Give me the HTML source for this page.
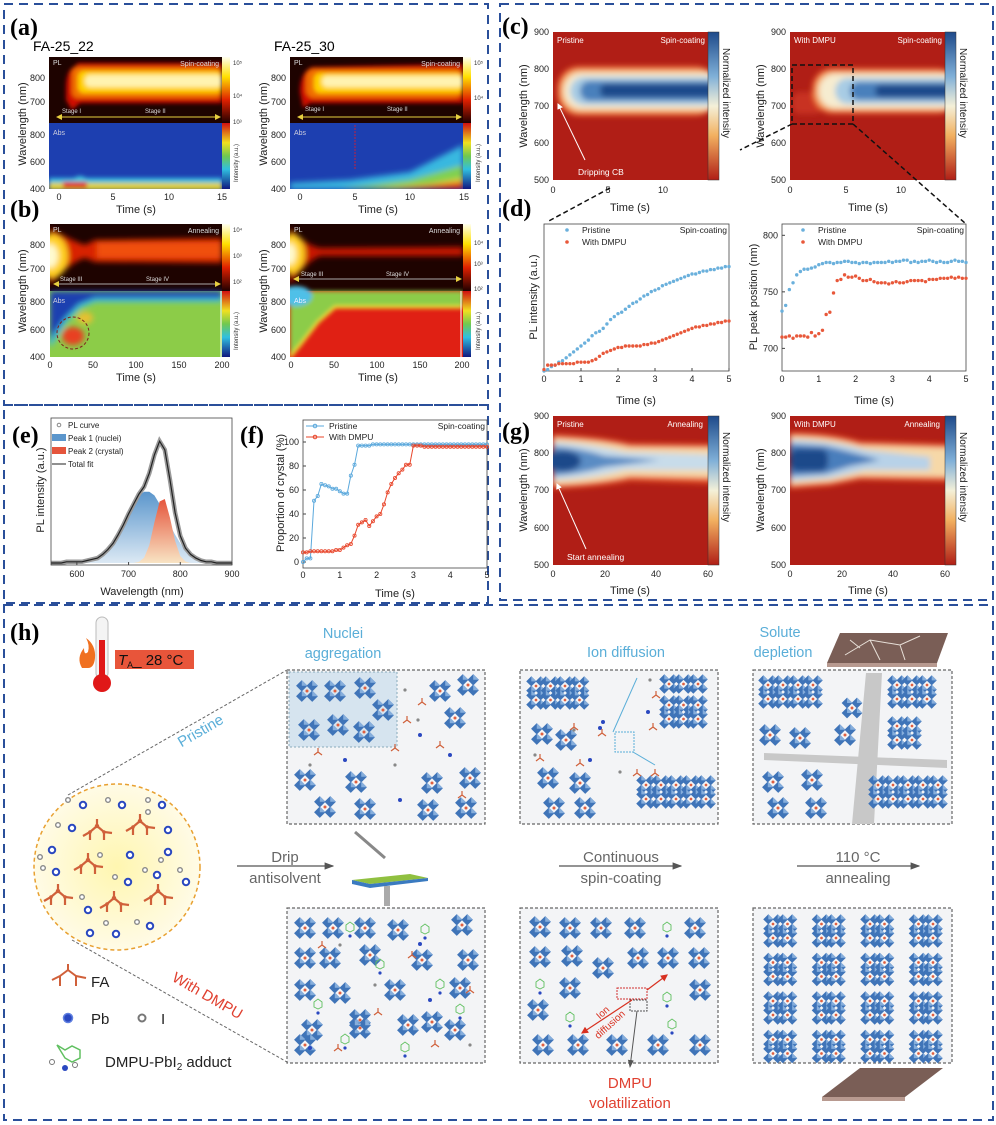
<!DOCTYPE html>
<html><head><meta charset="utf-8">
<style>
body{margin:0;background:#fff;}
svg{display:block;font-family:"Liberation Sans",sans-serif;}
.pl{font-family:"Liberation Serif",serif;font-weight:bold;font-size:24px;}
.tk{font-size:9px;fill:#222;}
.at{font-size:11px;fill:#222;}
.wt{font-size:8px;fill:#fff;}
</style></head>
<body>
<svg id="fig" width="996" height="1125" viewBox="0 0 996 1125">
<defs>
<filter id="bl2" x="-20%" y="-50%" width="140%" height="200%"><feGaussianBlur stdDeviation="2"/></filter>
<filter id="bl3" x="-20%" y="-50%" width="140%" height="200%"><feGaussianBlur stdDeviation="3"/></filter>
<linearGradient id="cbPL" x1="0" y1="0" x2="0" y2="1"><stop offset="0" stop-color="#fffff0"/><stop offset="0.3" stop-color="#ffe000"/><stop offset="0.65" stop-color="#e02000"/><stop offset="1" stop-color="#200000"/></linearGradient>
<linearGradient id="cbAbs" x1="0" y1="0" x2="0" y2="1"><stop offset="0" stop-color="#d01010"/><stop offset="0.3" stop-color="#f0e020"/><stop offset="0.5" stop-color="#70c850"/><stop offset="0.7" stop-color="#30c0e0"/><stop offset="1" stop-color="#101880"/></linearGradient>
<linearGradient id="cbN" x1="0" y1="0" x2="0" y2="1"><stop offset="0" stop-color="#1e4a8a"/><stop offset="0.3" stop-color="#80b0d8"/><stop offset="0.5" stop-color="#f4f0d8"/><stop offset="0.7" stop-color="#f2b060"/><stop offset="1" stop-color="#b01e16"/></linearGradient>
<linearGradient id="gP1" x1="0" y1="0" x2="0" y2="1"><stop offset="0" stop-color="#5b96cc"/><stop offset="1" stop-color="#dce9f4"/></linearGradient>
<linearGradient id="gP2" x1="0" y1="0" x2="0" y2="1"><stop offset="0" stop-color="#e5553c"/><stop offset="1" stop-color="#f8e4c4"/></linearGradient>
<radialGradient id="gCirc"><stop offset="0" stop-color="#fff6b0"/><stop offset="1" stop-color="#fffbe6"/></radialGradient>
<clipPath id="cA1"><rect x="49" y="57" width="173" height="132"/></clipPath>
<clipPath id="cA2"><rect x="290" y="57" width="173" height="132"/></clipPath>
<clipPath id="cB1"><rect x="50" y="224" width="172" height="133"/></clipPath>
<clipPath id="cB2"><rect x="290" y="224" width="173" height="133"/></clipPath>
<clipPath id="cC1"><rect x="553" y="32" width="155" height="148"/></clipPath>
<clipPath id="cC2"><rect x="790" y="32" width="155" height="148"/></clipPath>
<clipPath id="cG1"><rect x="553" y="416" width="155" height="149"/></clipPath>
<clipPath id="cG2"><rect x="790" y="416" width="155" height="149"/></clipPath>
<marker id="arB" markerWidth="8" markerHeight="8" refX="7" refY="4" orient="auto"><path d="M0,1 L8,4 L0,7z" fill="#555"/></marker>
<marker id="arY" markerWidth="6" markerHeight="6" refX="5" refY="3" orient="auto-start-reverse"><path d="M0,0 L6,3 L0,6z" fill="#e8d040"/></marker>
<marker id="arW" markerWidth="6" markerHeight="6" refX="5" refY="3" orient="auto"><path d="M0,0 L6,3 L0,6z" fill="#fff"/></marker>
<marker id="arR" markerWidth="6" markerHeight="6" refX="5" refY="3" orient="auto-start-reverse"><path d="M0,0 L6,3 L0,6z" fill="#d83020"/></marker>
</defs>

<rect x="4" y="4" width="484" height="401" fill="none" stroke="#2a4f9a" stroke-width="2" stroke-dasharray="9,6"/>
<rect x="500" y="4" width="493" height="596" fill="none" stroke="#2a4f9a" stroke-width="2" stroke-dasharray="9,6"/>
<rect x="4" y="405" width="484" height="198" fill="none" stroke="#2a4f9a" stroke-width="2" stroke-dasharray="9,6"/>
<rect x="4" y="605" width="989" height="515" fill="none" stroke="#2a4f9a" stroke-width="2" stroke-dasharray="9,6"/>

<!-- (a) -->
<text class="pl" x="10" y="35">(a)</text>
<text x="33" y="51" font-size="14">FA-25_22</text>
<text x="274" y="51" font-size="14">FA-25_30</text>

<g>
<g clip-path="url(#cA1)">
<rect x="49" y="57" width="173" height="66" fill="#1e0300"/>
<g filter="url(#bl2)">
<path d="M66,88 Q66,70 75,66 L78,63 L222,63 L222,103 L80,103 L72,110 L66,100z" fill="#d01000"/>
<rect x="72" y="67" width="150" height="31" rx="6" fill="#f07000"/>
<rect x="78" y="71" width="144" height="22" rx="6" fill="#ffd000"/>
<rect x="85" y="75" width="137" height="12" rx="5" fill="#fff3b0"/>
</g>
<rect x="49" y="123" width="173" height="66" fill="#1d3fb0"/>
<g filter="url(#bl2)">
<rect x="49" y="178" width="173" height="12" fill="#38c0e0"/>
<rect x="49" y="183" width="173" height="7" fill="#e0d030"/>
<rect x="63" y="182" width="24" height="6" fill="#e02010"/>
<path d="M70,182 Q80,170 90,182z" fill="#40c8e0"/>
</g>
</g>
<line x1="57" y1="117" x2="220" y2="117" stroke="#e8d040" stroke-width="1" marker-start="url(#arY)" marker-end="url(#arY)"/>
<text x="62" y="113" font-size="6" fill="#ddd">Stage I</text><text x="145" y="113" font-size="6" fill="#ddd">Stage II</text>
<text x="53" y="65" font-size="7" fill="#ddd">PL</text><text x="219" y="66" font-size="7" fill="#ddd" text-anchor="end">Spin-coating</text>
<text x="53" y="135" font-size="7" fill="#ccd">Abs</text>
<rect x="222" y="57" width="8" height="66" fill="url(#cbPL)"/><rect x="222" y="123" width="8" height="66" fill="url(#cbAbs)"/>
<text x="233" y="65" font-size="6" fill="#333">10⁵</text><text x="233" y="98" font-size="6" fill="#333">10⁴</text><text x="233" y="124" font-size="6" fill="#333">10³</text>
<text transform="translate(238,182) rotate(-90)" font-size="6" fill="#333">Intensity (a.u.)</text>
<text class="tk" x="45" y="81" text-anchor="end">800</text><text class="tk" x="45" y="105" text-anchor="end">700</text>
<text class="tk" x="45" y="138" text-anchor="end">800</text><text class="tk" x="45" y="165" text-anchor="end">600</text><text class="tk" x="45" y="192" text-anchor="end">400</text>
<text class="tk" x="59" y="200" text-anchor="middle">0</text><text class="tk" x="113" y="200" text-anchor="middle">5</text><text class="tk" x="169" y="200" text-anchor="middle">10</text><text class="tk" x="222" y="200" text-anchor="middle">15</text>
<text class="at" x="136" y="213" text-anchor="middle">Time (s)</text>
<text class="at" transform="translate(26,124) rotate(-90)" text-anchor="middle">Wavelength (nm)</text>
</g>

<g>
<g clip-path="url(#cA2)">
<rect x="290" y="57" width="173" height="66" fill="#1e0300"/>
<g filter="url(#bl2)">
<path d="M300,92 Q300,72 312,67 L463,64 L463,103 L310,103 L303,108z" fill="#d01000"/>
<rect x="306" y="69" width="157" height="29" rx="8" fill="#f07000"/>
<rect x="314" y="73" width="149" height="20" rx="6" fill="#ffd000"/>
<rect x="322" y="76" width="141" height="11" rx="5" fill="#fff3b0"/>
</g>
<rect x="290" y="123" width="173" height="66" fill="#1d3fb0"/>
<g filter="url(#bl3)">
<path d="M290,189 L290,183 L350,180 L410,172 L463,145 L463,189z" fill="#38b8e0"/>
<path d="M340,189 L410,180 L463,165 L463,189z" fill="#80d050"/>
<path d="M370,189 L430,184 L463,178 L463,189z" fill="#e8d030"/>
<path d="M395,189 L463,182 L463,189z" fill="#e02010"/>
</g>
</g>
<line x1="355" y1="125" x2="355" y2="170" stroke="#c02040" stroke-width="1" stroke-dasharray="2,1"/>
<line x1="298" y1="117" x2="461" y2="117" stroke="#e8d040" stroke-width="1" marker-start="url(#arY)" marker-end="url(#arY)"/>
<text x="305" y="111" font-size="6" fill="#ddd">Stage I</text><text x="387" y="111" font-size="6" fill="#ddd">Stage II</text>
<text x="294" y="65" font-size="7" fill="#ddd">PL</text><text x="460" y="66" font-size="7" fill="#ddd" text-anchor="end">Spin-coating</text>
<text x="294" y="135" font-size="7" fill="#ccd">Abs</text>
<rect x="463" y="57" width="8" height="66" fill="url(#cbPL)"/><rect x="463" y="123" width="8" height="66" fill="url(#cbAbs)"/>
<text x="474" y="65" font-size="6" fill="#333">10⁵</text><text x="474" y="100" font-size="6" fill="#333">10⁴</text>
<text transform="translate(480,182) rotate(-90)" font-size="6" fill="#333">Intensity (a.u.)</text>
<text class="tk" x="286" y="81" text-anchor="end">800</text><text class="tk" x="286" y="105" text-anchor="end">700</text>
<text class="tk" x="286" y="138" text-anchor="end">800</text><text class="tk" x="286" y="165" text-anchor="end">600</text><text class="tk" x="286" y="192" text-anchor="end">400</text>
<text class="tk" x="300" y="200" text-anchor="middle">0</text><text class="tk" x="355" y="200" text-anchor="middle">5</text><text class="tk" x="410" y="200" text-anchor="middle">10</text><text class="tk" x="464" y="200" text-anchor="middle">15</text>
<text class="at" x="378" y="213" text-anchor="middle">Time (s)</text>
<text class="at" transform="translate(267,124) rotate(-90)" text-anchor="middle">Wavelength (nm)</text>
</g>

<!-- (b) -->
<text class="pl" x="10" y="217">(b)</text>
<g>
<g clip-path="url(#cB1)">
<rect x="50" y="224" width="172" height="67" fill="#1e0300"/>
<g filter="url(#bl3)">
<path d="M50,228 Q70,240 85,245 L95,240 L222,238 L222,263 L95,262 L85,258 Q70,262 50,285z" fill="#d82000"/>
<rect x="97" y="242" width="125" height="16" fill="#f05010"/>
<ellipse cx="52" cy="256" rx="16" ry="22" fill="#ffd020"/>
<ellipse cx="50" cy="256" rx="8" ry="12" fill="#fffbd0"/>
</g>
<rect x="50" y="291" width="172" height="66" fill="#8ccc48"/>
<g filter="url(#bl3)">
<path d="M50,291 L222,291 L222,300 L95,300 L80,306 L66,320 L56,335 L50,345z" fill="#1d3fb0"/>
<path d="M50,345 L56,335 L66,320 L80,306 L95,300 L222,300" fill="none" stroke="#40c0e0" stroke-width="4"/>
<ellipse cx="73" cy="336" rx="11" ry="9" fill="#e84020"/>
<ellipse cx="85" cy="318" rx="8" ry="6" fill="#e8c030"/>
</g>
</g>
<circle cx="73" cy="333" r="16" fill="none" stroke="#802020" stroke-width="1" stroke-dasharray="3,2"/>
<line x1="221" y1="291" x2="221" y2="357" stroke="#fff" stroke-width="1"/>
<line x1="54" y1="284" x2="220" y2="284" stroke="#aaa" stroke-width="1" marker-start="url(#arY)" marker-end="url(#arY)"/>
<text x="60" y="281" font-size="6" fill="#ddd">Stage III</text><text x="146" y="281" font-size="6" fill="#ddd">Stage IV</text>
<text x="53" y="232" font-size="7" fill="#ddd">PL</text><text x="219" y="233" font-size="7" fill="#ddd" text-anchor="end">Annealing</text>
<text x="53" y="303" font-size="7" fill="#ccd">Abs</text>
<rect x="222" y="224" width="8" height="67" fill="url(#cbPL)"/><rect x="222" y="291" width="8" height="66" fill="url(#cbAbs)"/>
<text x="233" y="232" font-size="6" fill="#333">10⁴</text><text x="233" y="258" font-size="6" fill="#333">10³</text><text x="233" y="284" font-size="6" fill="#333">10²</text>
<text transform="translate(238,350) rotate(-90)" font-size="6" fill="#333">Intensity (a.u.)</text>
<text class="tk" x="45" y="248" text-anchor="end">800</text><text class="tk" x="45" y="272" text-anchor="end">700</text>
<text class="tk" x="45" y="305" text-anchor="end">800</text><text class="tk" x="45" y="333" text-anchor="end">600</text><text class="tk" x="45" y="360" text-anchor="end">400</text>
<text class="tk" x="50" y="368" text-anchor="middle">0</text><text class="tk" x="93" y="368" text-anchor="middle">50</text><text class="tk" x="136" y="368" text-anchor="middle">100</text><text class="tk" x="179" y="368" text-anchor="middle">150</text><text class="tk" x="222" y="368" text-anchor="middle">200</text>
<text class="at" x="136" y="381" text-anchor="middle">Time (s)</text>
<text class="at" transform="translate(26,291) rotate(-90)" text-anchor="middle">Wavelength (nm)</text>
</g>

<g>
<g clip-path="url(#cB2)">
<rect x="290" y="224" width="173" height="67" fill="#1e0300"/>
<g filter="url(#bl3)">
<path d="M290,228 Q305,245 320,248 L463,247 L463,256 L320,256 Q305,262 290,285z" fill="#c81800"/>
<ellipse cx="292" cy="254" rx="13" ry="20" fill="#ffd020"/>
<ellipse cx="290" cy="254" rx="6" ry="11" fill="#fffbd0"/>
</g>
<rect x="290" y="291" width="173" height="66" fill="#e02014"/>
<g filter="url(#bl2)">
<path d="M290,291 L463,291 L463,307 L335,307 L318,322 L300,345 L290,357z" fill="#8ccc48"/>
<path d="M290,357 L300,345 L318,322 L335,307 L463,307" fill="none" stroke="#f0e030" stroke-width="3"/>
<ellipse cx="296" cy="296" rx="16" ry="10" fill="#50c0e8"/>
</g>
</g>
<line x1="461" y1="291" x2="461" y2="357" stroke="#fff" stroke-width="1"/>
<line x1="294" y1="279" x2="461" y2="279" stroke="#aaa" stroke-width="1" marker-start="url(#arY)" marker-end="url(#arY)"/>
<text x="301" y="276" font-size="6" fill="#ddd">Stage III</text><text x="386" y="276" font-size="6" fill="#ddd">Stage IV</text>
<text x="294" y="232" font-size="7" fill="#ddd">PL</text><text x="460" y="233" font-size="7" fill="#ddd" text-anchor="end">Annealing</text>
<text x="294" y="303" font-size="7" fill="#eef">Abs</text>
<rect x="463" y="224" width="8" height="67" fill="url(#cbPL)"/><rect x="463" y="291" width="8" height="66" fill="url(#cbAbs)"/>
<text x="474" y="245" font-size="6" fill="#333">10⁴</text><text x="474" y="266" font-size="6" fill="#333">10³</text><text x="474" y="291" font-size="6" fill="#333">10²</text>
<text transform="translate(480,350) rotate(-90)" font-size="6" fill="#333">Intensity (a.u.)</text>
<text class="tk" x="286" y="248" text-anchor="end">800</text><text class="tk" x="286" y="272" text-anchor="end">700</text>
<text class="tk" x="286" y="305" text-anchor="end">800</text><text class="tk" x="286" y="333" text-anchor="end">600</text><text class="tk" x="286" y="360" text-anchor="end">400</text>
<text class="tk" x="291" y="368" text-anchor="middle">0</text><text class="tk" x="334" y="368" text-anchor="middle">50</text><text class="tk" x="377" y="368" text-anchor="middle">100</text><text class="tk" x="420" y="368" text-anchor="middle">150</text><text class="tk" x="462" y="368" text-anchor="middle">200</text>
<text class="at" x="378" y="381" text-anchor="middle">Time (s)</text>
<text class="at" transform="translate(267,291) rotate(-90)" text-anchor="middle">Wavelength (nm)</text>
</g>

<!-- (c) -->
<text class="pl" x="502" y="34">(c)</text>
<g>
<g clip-path="url(#cC1)">
<rect x="553" y="32" width="155" height="148" fill="#b01e16"/>
<g filter="url(#bl3)">
<rect x="557" y="66" width="160" height="50" rx="22" fill="#e85828"/>
<rect x="560" y="69" width="160" height="44" rx="20" fill="#f4b070"/>
<rect x="564" y="73" width="160" height="36" rx="17" fill="#f6ecd0"/>
<rect x="570" y="77" width="160" height="28" rx="14" fill="#a8cce4"/>
<rect x="580" y="81" width="160" height="20" rx="10" fill="#4a80bc"/>
<rect x="600" y="84" width="120" height="13" rx="6" fill="#1e4a8a"/>
</g>
</g>
<rect x="708" y="32" width="11" height="148" fill="url(#cbN)" stroke="#333" stroke-width="0.5"/>
<line x1="585" y1="160" x2="558" y2="104" stroke="#fff" stroke-width="1" marker-end="url(#arW)"/>
<text x="578" y="175" font-size="8.5" fill="#fff">Dripping CB</text>
<text class="wt" x="557" y="43">Pristine</text><text class="wt" x="705" y="43" text-anchor="end">Spin-coating</text>
<text transform="translate(723,48) rotate(90)" font-size="10" fill="#222">Normalized intensity</text>
<text class="tk" x="549" y="35" text-anchor="end">900</text><text class="tk" x="549" y="72" text-anchor="end">800</text><text class="tk" x="549" y="109" text-anchor="end">700</text><text class="tk" x="549" y="146" text-anchor="end">600</text><text class="tk" x="549" y="183" text-anchor="end">500</text>
<text class="tk" x="553" y="193" text-anchor="middle">0</text><text class="tk" x="608" y="193" text-anchor="middle">5</text><text class="tk" x="663" y="193" text-anchor="middle">10</text>
<text class="at" x="630" y="211" text-anchor="middle">Time (s)</text>
<text class="at" transform="translate(527,106) rotate(-90)" text-anchor="middle">Wavelength (nm)</text>
</g>

<g>
<g clip-path="url(#cC2)">
<rect x="790" y="32" width="155" height="148" fill="#b01e16"/>
<g filter="url(#bl3)">
<rect x="792" y="92" width="30" height="22" rx="8" fill="#c83020"/>
<rect x="812" y="68" width="145" height="46" rx="20" fill="#e85828"/>
<rect x="815" y="71" width="145" height="40" rx="18" fill="#f4b070"/>
<rect x="819" y="74" width="145" height="34" rx="16" fill="#f6ecd0"/>
<rect x="835" y="78" width="130" height="26" rx="13" fill="#a8cce4"/>
<rect x="850" y="82" width="120" height="18" rx="9" fill="#4a80bc"/>
<rect x="875" y="85" width="90" height="12" rx="6" fill="#1e4a8a"/>
</g>
</g>
<rect x="945" y="32" width="11" height="148" fill="url(#cbN)" stroke="#333" stroke-width="0.5"/>
<text class="wt" x="794" y="43">With DMPU</text><text class="wt" x="942" y="43" text-anchor="end">Spin-coating</text>
<text transform="translate(960,48) rotate(90)" font-size="10" fill="#222">Normalized intensity</text>
<text class="tk" x="786" y="35" text-anchor="end">900</text><text class="tk" x="786" y="72" text-anchor="end">800</text><text class="tk" x="786" y="109" text-anchor="end">700</text><text class="tk" x="786" y="146" text-anchor="end">600</text><text class="tk" x="786" y="183" text-anchor="end">500</text>
<text class="tk" x="790" y="193" text-anchor="middle">0</text><text class="tk" x="846" y="193" text-anchor="middle">5</text><text class="tk" x="901" y="193" text-anchor="middle">10</text>
<text class="at" x="868" y="211" text-anchor="middle">Time (s)</text>
<text class="at" transform="translate(764,106) rotate(-90)" text-anchor="middle">Wavelength (nm)</text>
<rect x="792" y="65" width="61" height="59" fill="none" stroke="#111" stroke-width="1.5" stroke-dasharray="5,3"/>
</g>
<g stroke="#111" stroke-width="1.5" stroke-dasharray="5,3" fill="none">
<line x1="792" y1="124" x2="740" y2="150"/><line x1="610" y1="188" x2="547" y2="222"/><line x1="853" y1="124" x2="966" y2="224"/>
</g>

<!-- (d) -->
<text class="pl" x="502" y="216">(d)</text>
<g id="dLeft"></g>
<g id="dRight"></g>

<!-- (g) -->
<text class="pl" x="502" y="439">(g)</text>
<g>
<g clip-path="url(#cG1)">
<rect x="553" y="416" width="155" height="149" fill="#b01e16"/>
<g filter="url(#bl3)">
<path d="M553,434 Q600,436 630,443 L720,444 L720,484 L630,481 Q600,487 553,489z" fill="#e85828"/>
<path d="M553,438 Q600,440 630,447 L720,448 L720,478 L630,476 Q600,483 553,485z" fill="#f6d8a8"/>
<path d="M553,442 Q590,444 625,452 L720,455 L720,470 L625,470 Q590,479 553,480z" fill="#c8dcea"/>
<path d="M553,446 Q580,448 605,456 L660,460 L605,467 Q580,474 553,476z" fill="#5a8cc4"/>
<ellipse cx="563" cy="461" rx="18" ry="10" fill="#1e4a8a"/>
</g>
</g>
<rect x="708" y="416" width="11" height="149" fill="url(#cbN)" stroke="#333" stroke-width="0.5"/>
<line x1="586" y1="549" x2="557" y2="484" stroke="#fff" stroke-width="1" marker-end="url(#arW)"/>
<text x="567" y="560" font-size="8.5" fill="#fff">Start annealing</text>
<text class="wt" x="557" y="427">Pristine</text><text class="wt" x="703" y="427" text-anchor="end">Annealing</text>
<text transform="translate(723,432) rotate(90)" font-size="10" fill="#222">Normalized intensity</text>
<text class="tk" x="549" y="419" text-anchor="end">900</text><text class="tk" x="549" y="456" text-anchor="end">800</text><text class="tk" x="549" y="493" text-anchor="end">700</text><text class="tk" x="549" y="531" text-anchor="end">600</text><text class="tk" x="549" y="568" text-anchor="end">500</text>
<text class="tk" x="553" y="577" text-anchor="middle">0</text><text class="tk" x="605" y="577" text-anchor="middle">20</text><text class="tk" x="656" y="577" text-anchor="middle">40</text><text class="tk" x="708" y="577" text-anchor="middle">60</text>
<text class="at" x="630" y="594" text-anchor="middle">Time (s)</text>
<text class="at" transform="translate(527,490) rotate(-90)" text-anchor="middle">Wavelength (nm)</text>
</g>
<g>
<g clip-path="url(#cG2)">
<rect x="790" y="416" width="155" height="149" fill="#b01e16"/>
<g filter="url(#bl3)">
<path d="M790,432 Q830,432 860,441 L960,444 L960,482 L860,480 L830,486 L790,489z" fill="#e85828"/>
<path d="M790,436 Q830,436 860,445 L960,448 L960,477 L860,476 L830,482 L790,485z" fill="#f6d8a8"/>
<path d="M790,440 Q830,440 865,450 L930,457 L930,470 L865,470 L830,478 L790,481z" fill="#b8d2e8"/>
<path d="M790,444 L825,446 Q850,452 880,460 L850,466 L825,474 L790,476z" fill="#4a7ebc"/>
<rect x="790" y="449" width="38" height="22" rx="8" fill="#1e4a8a"/>
</g>
</g>
<rect x="945" y="416" width="11" height="149" fill="url(#cbN)" stroke="#333" stroke-width="0.5"/>
<text class="wt" x="794" y="427">With DMPU</text><text class="wt" x="940" y="427" text-anchor="end">Annealing</text>
<text transform="translate(960,432) rotate(90)" font-size="10" fill="#222">Normalized intensity</text>
<text class="tk" x="786" y="419" text-anchor="end">900</text><text class="tk" x="786" y="456" text-anchor="end">800</text><text class="tk" x="786" y="493" text-anchor="end">700</text><text class="tk" x="786" y="531" text-anchor="end">600</text><text class="tk" x="786" y="568" text-anchor="end">500</text>
<text class="tk" x="790" y="577" text-anchor="middle">0</text><text class="tk" x="842" y="577" text-anchor="middle">20</text><text class="tk" x="893" y="577" text-anchor="middle">40</text><text class="tk" x="945" y="577" text-anchor="middle">60</text>
<text class="at" x="868" y="594" text-anchor="middle">Time (s)</text>
<text class="at" transform="translate(764,490) rotate(-90)" text-anchor="middle">Wavelength (nm)</text>
</g>

<!-- (e)(f) -->
<text class="pl" x="12" y="443">(e)</text>
<g id="eChart"></g>
<text class="pl" x="240" y="443">(f)</text>
<g id="fChart"></g>

<!-- (h) -->
<text class="pl" x="10" y="640">(h)</text>
<g>
<path d="M82,668 Q76,658 84,648 Q84,656 88,652 Q90,645 86,638 Q96,645 95,658 Q94,668 88,668z" fill="#f07020"/>
<rect x="96" y="617" width="12" height="62" rx="6" fill="#f4f4f4" stroke="#bbb"/>
<rect x="99" y="640" width="6" height="40" fill="#e01818"/>
<circle cx="102" cy="683" r="9" fill="#e01818"/>
</g>
<rect x="115" y="650" width="79" height="19" fill="#e8553a"/>
<text x="118" y="665" font-size="15" fill="#111"><tspan font-style="italic">T</tspan><tspan font-size="9" dy="3">A</tspan><tspan dy="-3">_ 28 °C</tspan></text>

<text x="343" y="638" font-size="14.5" fill="#5aaed8" text-anchor="middle">Nuclei</text>
<text x="343" y="658" font-size="14.5" fill="#5aaed8" text-anchor="middle">aggregation</text>
<text x="626" y="657" font-size="14.5" fill="#5aaed8" text-anchor="middle">Ion diffusion</text>
<text x="780" y="637" font-size="14.5" fill="#5aaed8" text-anchor="middle">Solute</text>
<text x="783" y="657" font-size="14.5" fill="#5aaed8" text-anchor="middle">depletion</text>

<g id="precursor">
<line x1="68" y1="795" x2="287" y2="670" stroke="#666" stroke-dasharray="3,2"/>
<line x1="72" y1="940" x2="287" y2="1062" stroke="#666" stroke-dasharray="3,2"/>
<circle cx="117" cy="867" r="83" fill="url(#gCirc)" stroke="#e8a030" stroke-width="1.5" stroke-dasharray="4,3"/>
</g>
<text transform="translate(203,735) rotate(-30)" font-size="15" fill="#5aaed8" text-anchor="middle">Pristine</text>
<text transform="translate(205,1000) rotate(30)" font-size="15" fill="#e04030" text-anchor="middle">With DMPU</text>

<g>
<line x1="237" y1="866" x2="333" y2="866" stroke="#555" stroke-width="1.2" marker-end="url(#arB)"/>
<text x="285" y="862" font-size="15" fill="#666" text-anchor="middle">Drip</text>
<text x="285" y="883" font-size="15" fill="#666" text-anchor="middle">antisolvent</text>
</g>
<g>
<line x1="355" y1="832" x2="385" y2="858" stroke="#888" stroke-width="3"/>
<path d="M352,880 L410,874 L428,878 L370,884z" fill="#90c040"/>
<path d="M352,880 L370,884 L428,878 L428,881 L370,888 L352,884z" fill="#3a7ac0"/>
<rect x="384" y="886" width="6" height="20" fill="#aaa"/>
</g>
<g>
<line x1="559" y1="866" x2="681" y2="866" stroke="#555" stroke-width="1.2" marker-end="url(#arB)"/>
<text x="621" y="862" font-size="15" fill="#666" text-anchor="middle">Continuous</text>
<text x="621" y="883" font-size="15" fill="#666" text-anchor="middle">spin-coating</text>
</g>
<g>
<line x1="797" y1="866" x2="919" y2="866" stroke="#555" stroke-width="1.2" marker-end="url(#arB)"/>
<text x="858" y="862" font-size="15" fill="#666" text-anchor="middle">110 °C</text>
<text x="858" y="883" font-size="15" fill="#666" text-anchor="middle">annealing</text>
</g>
<g>
<path d="M827,663 L840,633 L948,633 L937,663z" fill="#7a5e56"/>
<path d="M827,663 L937,663 L937,667 L827,667z" fill="#b89a90"/>
<path d="M845,655 L870,640 L900,645 L920,636 M870,640 L880,660 M900,645 L905,660 M860,648 L850,640" stroke="#e8e0d8" fill="none" stroke-width="1"/>
</g>
<g>
<path d="M822,1097 L860,1068 L943,1068 L905,1097z" fill="#7a5e56"/>
<path d="M822,1097 L905,1097 L905,1101 L822,1101z" fill="#b89a90"/>
</g>
<text x="630" y="1088" font-size="15" fill="#e04030" text-anchor="middle">DMPU</text>
<text x="630" y="1108" font-size="15" fill="#e04030" text-anchor="middle">volatilization</text>

<g>
<g stroke="#d0603a" stroke-width="2" fill="#d0603a"><line x1="52" y1="980" x2="60" y2="976"/><line x1="60" y1="976" x2="68" y2="970"/><line x1="68" y1="970" x2="76" y2="976"/><line x1="76" y1="976" x2="86" y2="978"/><line x1="68" y1="970" x2="68" y2="964"/><line x1="60" y1="976" x2="60" y2="986"/><line x1="76" y1="976" x2="76" y2="986"/></g>
<text x="91" y="987" font-size="15" fill="#222">FA</text>
<circle cx="68" cy="1018" r="4.5" fill="#2a48c0" stroke="#6080e0" stroke-width="1.5"/>
<text x="91" y="1024" font-size="15" fill="#222">Pb</text>
<circle cx="142" cy="1018" r="3.5" fill="#fff" stroke="#777" stroke-width="2"/>
<text x="161" y="1024" font-size="15" fill="#222">I</text>
<path d="M57,1045 L65,1050 L72,1046 L80,1050 L80,1058 L72,1062 L65,1058z" fill="none" stroke="#60c060" stroke-width="1.5"/>
<circle cx="52" cy="1062" r="2.5" fill="#fff" stroke="#777"/><circle cx="65" cy="1068" r="3" fill="#2a48c0"/><circle cx="75" cy="1065" r="2.5" fill="#fff" stroke="#777"/>
<text x="105" y="1067" font-size="15" fill="#222">DMPU-PbI<tspan font-size="10" dy="3">2</tspan><tspan dy="-3"> adduct</tspan></text>
</g>
<g id="hBoxes"></g>
</svg>

<script>
// ---------- data: (d) ----------
const dTime = [0,0.1,0.2,0.3,0.4,0.5,0.6,0.7,0.8,0.9,1.0,1.1,1.2,1.3,1.4,1.5,1.6,1.7,1.8,1.9,2.0,2.1,2.2,2.3,2.4,2.5,2.6,2.7,2.8,2.9,3.0,3.1,3.2,3.3,3.4,3.5,3.6,3.7,3.8,3.9,4.0,4.1,4.2,4.3,4.4,4.5,4.6,4.7,4.8,4.9,5.0];
const dIntPristine = [0.00,0.01,0.03,0.04,0.06,0.07,0.09,0.11,0.13,0.15,0.17,0.19,0.21,0.24,0.26,0.27,0.29,0.32,0.35,0.37,0.39,0.40,0.42,0.44,0.46,0.47,0.49,0.51,0.52,0.54,0.55,0.56,0.58,0.59,0.60,0.61,0.62,0.63,0.64,0.65,0.66,0.66,0.67,0.68,0.68,0.69,0.69,0.70,0.70,0.71,0.71];
const dIntDMPU = [0.01,0.04,0.04,0.04,0.05,0.05,0.05,0.05,0.05,0.06,0.06,0.06,0.06,0.07,0.08,0.10,0.12,0.13,0.14,0.15,0.16,0.16,0.17,0.17,0.17,0.17,0.17,0.18,0.18,0.19,0.19,0.20,0.21,0.22,0.23,0.24,0.25,0.26,0.27,0.28,0.29,0.30,0.30,0.31,0.31,0.32,0.32,0.33,0.33,0.34,0.34];
const dPeakPristine = [733,738,752,758,765,768,770,770,771,772,774,775,776,776,775,776,776,777,777,776,776,775,776,776,775,776,776,776,776,777,776,777,777,778,778,776,777,776,777,777,778,777,776,777,776,776,777,778,777,777,776];
const dPeakDMPU = [710,710,711,709,711,711,711,710,714,711,713,716,730,732,749,760,761,765,763,763,764,762,760,760,761,759,758,758,758,757,758,759,758,758,759,760,760,760,760,759,761,761,761,762,762,762,763,762,763,762,762];
const dTimeTicks = [0,1,2,3,4,5];
const dPeakTicks = [700,750,800];
// ---------- data: (e) ----------
const eWave = [550,560,570,580,590,600,610,620,630,640,650,660,670,680,690,700,710,720,730,740,750,760,770,780,790,800,810,820,830,840,850,860,870,880,890,900];
const ePL = [0,0,0,0.01,0.01,0.01,0.01,0.02,0.03,0.04,0.07,0.11,0.16,0.23,0.31,0.40,0.48,0.56,0.62,0.73,0.88,0.99,0.92,0.68,0.41,0.22,0.12,0.07,0.04,0.02,0.01,0.01,0,0,0,0];
const ePeak1 = [0,0,0,0,0.001,0.002,0.004,0.009,0.019,0.035,0.062,0.10,0.16,0.23,0.31,0.40,0.48,0.55,0.58,0.58,0.55,0.48,0.40,0.31,0.23,0.16,0.10,0.062,0.035,0.019,0.009,0.004,0.002,0.001,0,0];
const ePeak2 = [0,0,0,0,0,0,0,0,0,0,0,0,0,0,0,0,0,0.009,0.043,0.145,0.33,0.50,0.52,0.37,0.18,0.056,0.012,0,0,0,0,0,0,0,0,0];
const eTicks = [600,700,800,900];
// ---------- data: (f) ----------
const fTime = dTime;
const fPristine = [0,3,3,51,55,65,64,63,61,61,59,57,57,72,81,97,97,97,97,98,98,98,98,98,98,98,98,98,98,98,98,98,98,98,98,98,98,98,98,98,98,98,98,98,98,98,98,98,98,98,98];
const fDMPU = [8,8,9,9,9,9,9,9,9,10,10,12,14,15,22,31,33,35,30,34,38,40,48,58,65,70,74,77,81,81,97,97,97,96,96,96,96,96,96,96,96,96,96,96,96,96,96,96,96,96,96];
const fYTicks = [0,20,40,60,80,100];
const fXTicks = [0,1,2,3,4,5];

const NS='http://www.w3.org/2000/svg';
function mk(tag,parent){const e=document.createElementNS(NS,tag);parent.appendChild(e);return e;}
function txt(parent,x,y,s,size,anchor,fill){const t=mk('text',parent);t.setAttribute('x',x);t.setAttribute('y',y);t.setAttribute('font-size',size);t.setAttribute('text-anchor',anchor||'start');t.setAttribute('fill',fill||'#222');t.textContent=s;return t;}
function frame(g,x0,y0,x1,y1){const r=mk('rect',g);r.setAttribute('x',x0);r.setAttribute('y',y0);r.setAttribute('width',x1-x0);r.setAttribute('height',y1-y0);r.setAttribute('fill','none');r.setAttribute('stroke','#444');r.setAttribute('stroke-width','0.8');return r;}
function dots(g,xs,ys,xf,yf,color,name){const s=mk('g',g);


for(let i=0;i<xs.length;i++){const c=mk('circle',s);c.setAttribute('cx',xf(xs[i]));c.setAttribute('cy',yf(ys[i]));c.setAttribute('r',1.7);c.setAttribute('fill',color);}
return s;}

// (d) left
(function(){
const g=document.getElementById('dLeft');
const X0=544,X1=729,Y0=224,Y1=371;
const xf=t=>X0+(t-0)/5*(X1-X0), yf=v=>Y1-v*(Y1-Y0);
frame(g,X0,Y0,X1,Y1);
dTimeTicks.forEach(t=>{const l=mk('line',g);l.setAttribute('x1',xf(t));l.setAttribute('x2',xf(t));l.setAttribute('y1',Y1);l.setAttribute('y2',Y1-3);l.setAttribute('stroke','#444');
const tl=txt(g,xf(t),382,t,9,'middle');

});
dots(g,dTime,dIntPristine,xf,yf,'#6ab0dc','series-pristine-intensity');
dots(g,dTime,dIntDMPU,xf,yf,'#e8583a','series-dmpu-intensity');
const at=txt(g,636,404,'Time (s)',11,'middle');


const yt=txt(g,0,0,'PL intensity (a.u.)',11,'middle');yt.setAttribute('transform','translate(537,297) rotate(-90)');


const lg=mk('g',g);


let c=mk('circle',lg);c.setAttribute('cx',567);c.setAttribute('cy',230);c.setAttribute('r',1.8);c.setAttribute('fill','#6ab0dc');
txt(lg,582,233,'Pristine',8.5);
c=mk('circle',lg);c.setAttribute('cx',567);c.setAttribute('cy',242);c.setAttribute('r',1.8);c.setAttribute('fill','#e8583a');
txt(lg,582,245,'With DMPU',8.5);
txt(lg,727,233,'Spin-coating',8.5,'end');
})();

// (d) right
(function(){
const g=document.getElementById('dRight');
const X0=782,X1=966,Y0=224,Y1=371;
const xf=t=>X0+t/5*(X1-X0), yf=v=>Y1-(v-680)/130*(Y1-Y0);
frame(g,X0,Y0,X1,Y1);
dTimeTicks.forEach(t=>{const tl=txt(g,xf(t),382,t,9,'middle');

});
dPeakTicks.forEach(v=>{const tl=txt(g,X0-4,yf(v)+3,v,9,'end');


const l=mk('line',g);l.setAttribute('x1',X0);l.setAttribute('x2',X0+3);l.setAttribute('y1',yf(v));l.setAttribute('y2',yf(v));l.setAttribute('stroke','#444');});
dots(g,dTime,dPeakPristine,xf,yf,'#6ab0dc','series-pristine-peak');
dots(g,dTime,dPeakDMPU,xf,yf,'#e8583a','series-dmpu-peak');
const at=txt(g,874,404,'Time (s)',11,'middle');


const yt=txt(g,0,0,'PL peak position (nm)',11,'middle');yt.setAttribute('transform','translate(757,297) rotate(-90)');


const lg=mk('g',g);


let c=mk('circle',lg);c.setAttribute('cx',803);c.setAttribute('cy',230);c.setAttribute('r',1.8);c.setAttribute('fill','#6ab0dc');
txt(lg,818,233,'Pristine',8.5);
c=mk('circle',lg);c.setAttribute('cx',803);c.setAttribute('cy',242);c.setAttribute('r',1.8);c.setAttribute('fill','#e8583a');
txt(lg,818,245,'With DMPU',8.5);
txt(lg,964,233,'Spin-coating',8.5,'end');
})();

// (e)
(function(){
const g=document.getElementById('eChart');
const X0=51,X1=232,Y0=418,Y1=565,BASE=563,S=123;
const xf=w=>X0+(w-550)/350*(X1-X0), yf=v=>BASE-v*S;
function area(vals,fill,name){const p=mk('path',g);let d='M'+xf(eWave[0])+','+yf(0);
eWave.forEach((w,i)=>{d+=' L'+xf(w).toFixed(1)+','+yf(vals[i]).toFixed(1);});d+=' L'+xf(eWave[eWave.length-1])+','+yf(0)+'Z';
p.setAttribute('d',d);p.setAttribute('fill',fill);

}
area(ePeak1,'url(#gP1)','peak1-nuclei-area');
area(ePeak2,'url(#gP2)','peak2-crystal-area');
const pts=eWave.map((w,i)=>xf(w).toFixed(1)+','+yf(ePL[i]).toFixed(1)).join(' ');
const pl=mk('polyline',g);pl.setAttribute('points',pts);pl.setAttribute('fill','none');pl.setAttribute('stroke','#9a9a9a');pl.setAttribute('stroke-width','4.5');


const fl=mk('polyline',g);fl.setAttribute('points',pts);fl.setAttribute('fill','none');fl.setAttribute('stroke','#222');fl.setAttribute('stroke-width','1.2');


frame(g,X0,Y0,X1,Y1);
eTicks.forEach(w=>{const tl=txt(g,xf(w),577,w,9,'middle');


const l=mk('line',g);l.setAttribute('x1',xf(w));l.setAttribute('x2',xf(w));l.setAttribute('y1',Y1);l.setAttribute('y2',Y1-3);l.setAttribute('stroke','#444');});
const at=txt(g,142,595,'Wavelength (nm)',11,'middle');


const yt=txt(g,0,0,'PL intensity (a.u.)',11,'middle');yt.setAttribute('transform','translate(44,490) rotate(-90)');


const lg=mk('g',g);


let c=mk('circle',lg);c.setAttribute('cx',59);c.setAttribute('cy',425);c.setAttribute('r',1.8);c.setAttribute('fill','none');c.setAttribute('stroke','#888');
txt(lg,68,428,'PL curve',8);
let r=mk('rect',lg);r.setAttribute('x',52);r.setAttribute('y',434);r.setAttribute('width',14);r.setAttribute('height',7);r.setAttribute('fill','#5b96cc');
txt(lg,68,441,'Peak 1 (nuclei)',8);
r=mk('rect',lg);r.setAttribute('x',52);r.setAttribute('y',447);r.setAttribute('width',14);r.setAttribute('height',7);r.setAttribute('fill','#e5553c');
txt(lg,68,454,'Peak 2 (crystal)',8);
let l=mk('line',lg);l.setAttribute('x1',52);l.setAttribute('x2',66);l.setAttribute('y1',464);l.setAttribute('y2',464);l.setAttribute('stroke','#222');
txt(lg,68,467,'Total fit',8);
})();

// (f)
(function(){
const g=document.getElementById('fChart');
const X0=303,X1=487,Y0=420,Y1=568;
const xf=t=>X0+t/5*(X1-X0), yf=v=>562-v*1.2;
frame(g,X0,Y0,X1,Y1);
fXTicks.forEach(t=>{const tl=txt(g,xf(t),578,t,9,'middle');

});
fYTicks.forEach(v=>{const tl=txt(g,X0-4,yf(v)+3,v,9,'end');


const l=mk('line',g);l.setAttribute('x1',X0);l.setAttribute('x2',X0+3);l.setAttribute('y1',yf(v));l.setAttribute('y2',yf(v));l.setAttribute('stroke','#444');});
function series(vals,color,name){const s=mk('g',g);


const pl=mk('polyline',s);pl.setAttribute('points',fTime.map((t,i)=>xf(t).toFixed(1)+','+yf(vals[i]).toFixed(1)).join(' '));pl.setAttribute('fill','none');pl.setAttribute('stroke',color);pl.setAttribute('stroke-width','1');
fTime.forEach((t,i)=>{const c=mk('circle',s);c.setAttribute('cx',xf(t));c.setAttribute('cy',yf(vals[i]));c.setAttribute('r',1.6);c.setAttribute('fill','none');c.setAttribute('stroke',color);c.setAttribute('stroke-width','0.8');});}
series(fPristine,'#5aa8dc','series-pristine-crystal');
series(fDMPU,'#e8452a','series-dmpu-crystal');
const at=txt(g,395,597,'Time (s)',11,'middle');


const yt=txt(g,0,0,'Proportion of crystal (%)',11,'middle');yt.setAttribute('transform','translate(284,493) rotate(-90)');


const lg=mk('g',g);


[['#5aa8dc','Pristine',426],['#e8452a','With DMPU',437]].forEach(a=>{let l=mk('line',lg);l.setAttribute('x1',306);l.setAttribute('x2',324);l.setAttribute('y1',a[2]);l.setAttribute('y2',a[2]);l.setAttribute('stroke',a[0]);
let c=mk('circle',lg);c.setAttribute('cx',315);c.setAttribute('cy',a[2]);c.setAttribute('r',1.8);c.setAttribute('fill','none');c.setAttribute('stroke',a[0]);
txt(lg,329,a[2]+3,a[1],8.5);});
txt(lg,485,429,'Spin-coating',8.5,'end');
})();

// (h)
(function(){
function star(x,y,k){k=k||1;let s='';const o=5.5*k,r=6*k;
[[-o,-o],[o,-o],[-o,o],[o,o]].forEach(p=>{const cx=x+p[0],cy=y+p[1];
s+=`<polygon points="${cx},${cy-r} ${cx+r},${cy} ${cx},${cy+r} ${cx-r},${cy}" fill="#3f74b8"/><polygon points="${cx},${cy-r} ${cx+r},${cy} ${cx},${cy}" fill="#86aedc"/>`;});
s+=`<circle cx="${x}" cy="${y}" r="${1.6*k}" fill="#e06040"/>`;return s;}
function fa(x,y){return `<path d="M${x-4},${y+3} L${x},${y} L${x+4},${y+3} M${x},${y} L${x},${y-4}" stroke="#d0603a" stroke-width="1.2" fill="none"/>`;}
function bigFA(x,y){return `<g stroke="#d0603a" stroke-width="2.2" fill="none"><path d="M${x-14},${y+6} L${x-7},${y+2} L${x},${y-4} L${x+7},${y+2} L${x+15},${y+3} M${x},${y-4} L${x},${y-11} M${x-7},${y+2} L${x-7},${y+10} M${x+7},${y+2} L${x+7},${y+10}"/></g><g fill="#d0603a"><circle cx="${x}" cy="${y-4}" r="2.2"/><circle cx="${x-7}" cy="${y+2}" r="1.8"/><circle cx="${x+7}" cy="${y+2}" r="1.8"/></g>`;}
function ion(x,y,pb){return pb?`<circle cx="${x}" cy="${y}" r="2" fill="#2a48c0"/>`:`<circle cx="${x}" cy="${y}" r="1.6" fill="#888"/>`;}
function dm(x,y){return `<path d="M${x-4},${y-3} L${x},${y-6} L${x+4},${y-3} L${x+4},${y+2} L${x},${y+4} L${x-4},${y+2}z" fill="none" stroke="#60c060" stroke-width="0.9"/><circle cx="${x}" cy="${y+8}" r="1.6" fill="#2a48c0"/>`;}
function box(x0,y0,x1,y1){return `<rect x="${x0}" y="${y0}" width="${x1-x0}" height="${y1-y0}" fill="#f3f4f6" stroke="#666" stroke-width="1.2" stroke-dasharray="3,2"/>`;}
function grid(x0,y0,nx,ny,dx,dy,k){let s='';for(let i=0;i<nx;i++)for(let j=0;j<ny;j++)s+=star(x0+i*dx,y0+j*dy,k);return s;}

// precursor circle contents
const pc=document.getElementById('precursor');
const cg=mk('g',pc);


let c='';
[[83,805],[122,805],[162,805],[72,828],[52,850],[56,872],[130,855],[168,852],[157,875],[128,882],[88,910],[150,926],[90,933],[116,934],[186,882],[168,830]].forEach(p=>c+=`<circle cx="${p[0]}" cy="${p[1]}" r="3.2" fill="#fff" stroke="#2a48c0" stroke-width="2"/>`);
[[68,800],[108,800],[148,800],[58,825],[40,857],[43,868],[100,855],[115,877],[145,870],[180,870],[82,897],[106,923],[137,922],[161,860],[148,812]].forEach(p=>c+=`<circle cx="${p[0]}" cy="${p[1]}" r="2.3" fill="#fff" stroke="#888" stroke-width="1.4"/>`);
[[97,830],[140,825],[88,864],[58,895],[114,902],[158,895]].forEach(p=>c+=bigFA(p[0],p[1]));
cg.innerHTML=c;

const g=document.getElementById('hBoxes');
let h='';
h+=box(287,670,485,824);
h+=`<rect x="289" y="672" width="108" height="75" fill="#d6e4ef" stroke="#8ab" stroke-dasharray="2,2"/>`;
[[307,691],[335,691],[365,688],[383,710],[309,730],[338,725],[364,732],[440,691],[468,685],[455,718],[305,780],[325,807],[356,782],[365,809],[432,783],[470,778],[428,810],[466,808]].forEach(p=>h+=star(p[0],p[1],0.95));
[[405,690],[420,735],[310,765],[345,760],[395,765],[400,800],[418,720],[450,755]].forEach((p,i)=>h+=ion(p[0],p[1],i%2));
[[407,720],[422,702],[395,748],[440,745],[462,795],[318,752]].forEach(p=>h+=fa(p[0],p[1]));
h+=box(520,670,718,824);
h+=grid(536,686,4,2,14.5,14,0.85)+star(542,734,0.95)+star(566,740,0.95);
h+=grid(669,684,3,1,14.5,0,0.85)+grid(669,705,3,2,14.5,14,0.85);
h+=star(548,778,0.95)+star(580,783,0.95)+star(554,808,0.95)+star(585,808,0.95);
h+=grid(646,785,5,2,15,14,0.85);
h+=`<rect x="615" y="732" width="19" height="20" fill="none" stroke="#5aaed8" stroke-dasharray="2,1"/><line x1="613" y1="732" x2="637" y2="678" stroke="#5aaed8"/><line x1="633" y1="752" x2="655" y2="765" stroke="#5aaed8"/>`;
[[574,730],[600,728],[535,755],[590,760],[620,772],[603,722],[650,680],[648,712]].forEach((p,i)=>h+=ion(p[0],p[1],i%2));
[[574,727],[602,733],[540,758],[580,763],[637,773],[655,773],[656,695],[653,727]].forEach(p=>h+=fa(p[0],p[1]));
h+=box(753,670,952,824);
h+=`<path d="M866,673 L882,673 L874,824 L852,824z" fill="#c8c8c8"/><path d="M764,753 L947,760 L947,768 L764,760z" fill="#c8c8c8"/>`;
h+=grid(768,685,4,2,15,14,0.85)+star(770,735,0.95)+star(800,738,0.95)+star(845,735,0.95)+star(852,708,0.9);
h+=grid(897,685,3,2,15,14,0.85)+grid(897,726,2,2,15,14,0.85);
h+=star(773,782,0.95)+star(812,780,0.95)+star(778,808,0.95)+star(816,808,0.95);
h+=grid(878,785,5,2,15,14,0.85);
h+=box(287,908,485,1063);
[[305,928],[333,928],[365,928],[398,930],[462,925],[305,958],[330,958],[370,955],[422,960],[468,960],[305,990],[340,993],[395,990],[460,988],[312,1030],[360,1028],[408,1025],[432,1022],[455,1030],[360,1020],[305,1045]].forEach(p=>h+=star(p[0],p[1],0.95));
[[350,928],[380,965],[425,930],[440,985],[318,1005],[345,1040],[405,1048],[460,1010]].forEach(p=>h+=dm(p[0],p[1]));
[[340,945],[420,944],[375,985],[430,1000],[470,1045],[310,1048]].forEach((p,i)=>h+=ion(p[0],p[1],i%2));
[[322,945],[412,955],[378,1012],[435,1044],[470,990],[338,1048]].forEach(p=>h+=fa(p[0],p[1]));
h+=box(520,908,718,1063);
[[540,927],[570,928],[601,928],[635,928],[695,928],[540,957],[572,956],[603,968],[638,958],[668,958],[699,958],[570,988],[538,1010],[700,990],[543,1045],[578,1045],[617,1045],[658,1045],[700,1045]].forEach(p=>h+=star(p[0],p[1],0.95));
[[667,928],[540,985],[570,1018],[667,998],[672,1025]].forEach(p=>h+=dm(p[0],p[1]));
h+=`<rect x="617" y="988" width="30" height="11" fill="none" stroke="#d03030" stroke-dasharray="2,1"/><rect x="630" y="1000" width="17" height="11" fill="none" stroke="#555" stroke-dasharray="2,1"/>`;
h+=`<line x1="632" y1="1000" x2="582" y2="1033" stroke="#d83020" stroke-width="1.2" marker-end="url(#arR)"/><line x1="647" y1="990" x2="667" y2="975" stroke="#d83020" stroke-width="1.2" marker-end="url(#arR)"/><line x1="637" y1="1011" x2="630" y2="1067" stroke="#555" stroke-width="1" marker-end="url(#arB)"/>`;
h+=`<text transform="translate(605,1015) rotate(-42)" font-size="10" fill="#d83020" text-anchor="middle">Ion</text><text transform="translate(612,1027) rotate(-42)" font-size="10" fill="#d83020" text-anchor="middle">diffusion</text>`;
h+=box(753,908,952,1063);
for(let i=0;i<4;i++)for(let j=0;j<4;j++)h+=grid(773+i*48.5,924+j*38.5,2,2,14.5,14,0.85);
g.innerHTML=h;
})();
</script>
</body></html>
